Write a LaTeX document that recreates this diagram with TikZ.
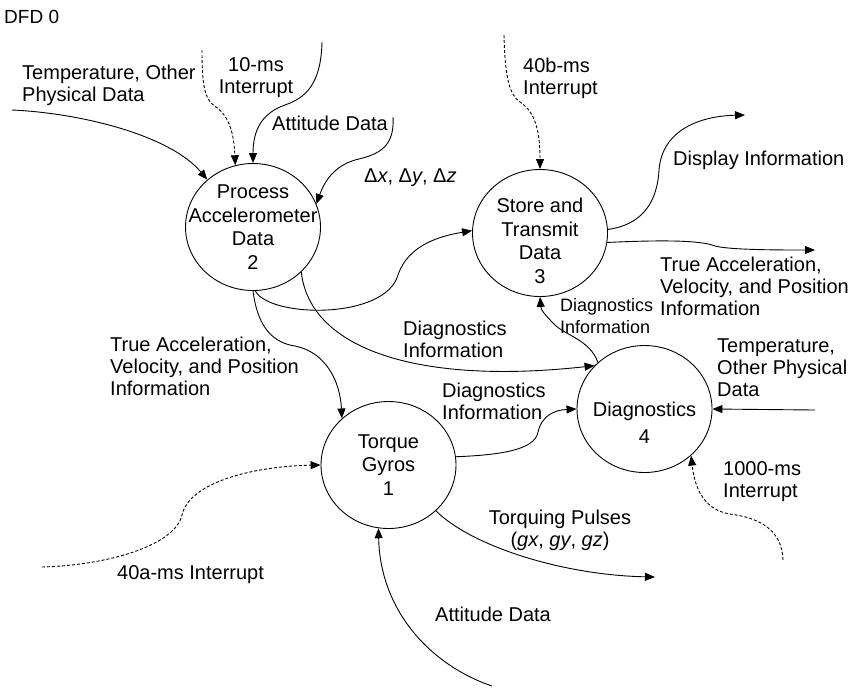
\documentclass[tikz,border=0pt]{standalone}
\usepackage{fontspec}
\setmainfont{Liberation Sans}
\usetikzlibrary{shapes.geometric,arrows.meta}
\begin{document}
\begin{tikzpicture}[x=1pt,y=-1pt,
  every node/.style={font=\fontsize{20}{22}\selectfont, inner sep=0pt},
  proc/.style={ellipse, draw, line width=0.9pt, minimum width=135pt, minimum height=127pt},
  ptext/.style={align=center, font=\fontsize{20}{23.5}\selectfont},
  lbl/.style={anchor=west, align=left},
  arr/.style={draw, line width=0.9pt, -{Triangle[length=10pt,width=8pt]}},
  dsh/.style={dash pattern=on 3pt off 2pt}]
\useasboundingbox (0,0) rectangle (858,689);

% processes
\node[proc, label={[ptext]center:Process\\Accelerometer\\Data\\2}] (p2) at (253,227) {};
\node[proc, label={[ptext, yshift=-8pt]center:Store and\\Transmit\\Data\\3}] (p3) at (540,233) {};
\node[proc, label={[ptext, yshift=-14pt]center:Diagnostics\\[3.5pt]4}] (p4) at (644.5,409) {};
\node[proc, label={[ptext]center:Torque\\Gyros\\1}] (p1) at (388.5,465) {};

% labels
\node[lbl, font=\fontsize{19}{22}\selectfont] (title) at (4,17) {DFD 0};
\node[lbl] (ltempl) at (22,85) {Temperature, Other\\Physical Data};
\node[align=center] (l10) at (256,78) {10-ms\\Interrupt};
\node[lbl] (latt1) at (272,123) {Attitude Data};
\node[lbl] (ldelta) at (364,178) {Δ\textit{x}, Δ\textit{y}, Δ\textit{z}};
\node[lbl] (l40b) at (523,78) {40b-ms\\Interrupt};
\node[lbl] (ldisp) at (673,160) {Display Information};
\node[lbl] (ltrueR) at (660,286) {True Acceleration,\\Velocity, and Position\\Information};
\node[lbl, font=\fontsize{18}{22}\selectfont] (ldiag3) at (560,316) {Diagnostics\\Information};
\node[lbl] (ldiagM) at (403,339) {Diagnostics\\Information};
\node[lbl] (ldiagL) at (442,401) {Diagnostics\\Information};
\node[lbl] (ltrueL) at (110,366) {True Acceleration,\\Velocity, and Position\\Information};
\node[lbl] (ltempr) at (717,368) {Temperature,\\Other Physical\\Data};
\node[lbl] (l1000) at (723,482) {1000-ms\\Interrupt};
\node[align=center] (ltorq) at (560,530) {Torquing Pulses\\(\textit{gx}, \textit{gy}, \textit{gz})};
\node[lbl] (l40a) at (117,575) {40a-ms Interrupt};
\node[lbl] (latt2) at (435,614) {Attitude Data};

% free ends
\coordinate (tl) at (12,110);
\coordinate (d10) at (202,50);
\coordinate (at1) at (322,42);
\coordinate (dx1) at (393,117);
\coordinate (dsp) at (745,115);
\coordinate (tar) at (815,250);
\coordinate (tr) at (815,410);
\coordinate (k1) at (783,560);
\coordinate (a40) at (42,567);
\coordinate (atb) at (492,686);
\coordinate (tqp) at (655,577);
\coordinate (b40) at (504,35);

% connectors
\draw[arr] (tl) .. controls (80,113) and (170,135) .. (p2.134);
\draw[arr,dsh] (d10) .. controls (202,92) and (206,100) .. (216,107) .. controls (230,117) and (234,135) .. (p2.106);
\draw[arr] (at1) .. controls (321,85) and (305,98) .. (285,105) .. controls (262,113) and (253,130) .. (p2.90);
\draw[arr] (dx1) .. controls (395,150) and (375,155) .. (355,160) .. controls (335,166) and (325,180) .. (p2.20);
\draw[arr] (p2.-88) .. controls (270,318) and (385,320) .. (398,275) .. controls (408,245) and (440,236) .. (p3.178);
\draw[arr] (p2.-43) .. controls (310,350) and (420,385) .. (p4.139);
\draw[arr] (p2.-90) .. controls (258,330) and (275,343) .. (295,346) .. controls (325,352) and (340,380) .. (p1.135);
\draw[arr] (p1.7) .. controls (500,455) and (535,450) .. (538,432) .. controls (542,415) and (555,410) .. (p4.180);
\draw[arr] (p4.135) .. controls (590,340) and (565,335) .. (555,325) .. controls (545,315) and (541,310) .. (p3.-90);
\draw[arr] (p3.3) .. controls (640,225) and (657,205) .. (659,170) .. controls (662,130) and (700,116) .. (dsp);
\draw[arr] (p3.-8) .. controls (660,240) and (700,240) .. (715,246) .. controls (730,250) and (780,250) .. (tar);
\draw[arr] (tr) -- (p4.0);
\draw[arr,dsh] (k1) .. controls (782,530) and (760,518) .. (730,514) .. controls (705,510) and (695,490) .. (p4.-45);
\draw[arr,dsh] (a40) .. controls (110,565) and (175,545) .. (182,515) .. controls (190,480) and (260,466) .. (p1.180);
\draw[arr] (atb) .. controls (430,665) and (380,610) .. (p1.-99);
\draw[arr] (p1.-44) .. controls (470,545) and (560,575) .. (tqp);
\draw[arr,dsh] (b40) .. controls (505,80) and (510,95) .. (520,102) .. controls (535,112) and (540,130) .. (p3.90);
\end{tikzpicture}
\end{document}
